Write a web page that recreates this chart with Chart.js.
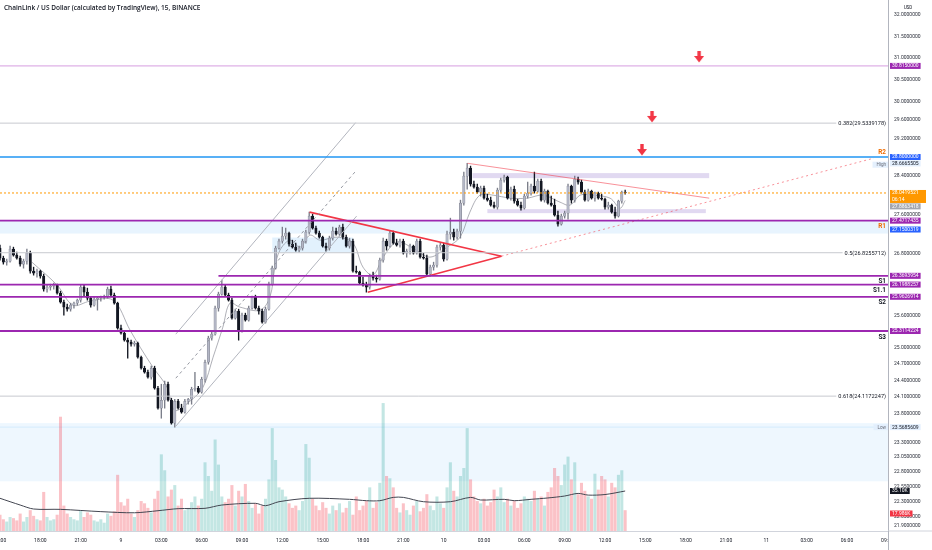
<!DOCTYPE html>
<html>
<head>
<meta charset="utf-8">
<script src="https://cdn.jsdelivr.net/npm/chart.js@4.4.1/dist/chart.umd.min.js"></script>
<style>
  html, body { margin: 0; padding: 0; background: #fff; }
  canvas { display: block; }
</style>
</head>
<body>
<canvas id="chart" width="932" height="550"></canvas>
<script>
// 15 minute candles, index 0 = 8th 15:00
const opens = [
  26.917, 26.718, 26.638, 26.658, 26.897, 26.777, 26.718, 26.599, 26.658, 26.817,
  26.461, 26.422, 26.461, 26.363, 26.110, 26.149, 26.169, 26.188, 26.033, 25.859,
  25.764, 25.725, 25.802, 25.840, 25.898, 26.149, 26.052, 25.936, 25.802, 25.917,
  25.936, 25.956, 25.975, 26.110, 25.994, 25.840, 25.365, 25.271, 25.140, 25.102,
  25.065, 25.084, 24.824, 24.622, 24.549, 24.458, 24.622, 24.259, 23.902, 24.044,
  24.331, 24.044, 23.637, 24.026, 23.902, 23.831, 24.026, 24.062, 24.241, 24.259,
  24.187, 24.422, 24.732, 25.177, 25.252, 25.744, 26.013, 26.149, 25.994, 25.898,
  25.554, 25.687, 25.327, 25.611, 25.516, 25.744, 25.956, 25.744, 25.687, 25.478,
  25.725, 26.207, 26.520, 26.917, 27.057, 27.158, 27.218, 26.997, 26.937, 26.877,
  26.917, 27.057, 27.239, 27.564, 27.319, 27.218, 27.138, 26.957, 26.917, 27.117,
  27.259, 27.198, 27.340, 27.138, 26.957, 27.057, 26.461, 26.442, 26.227, 26.188,
  26.149, 26.363, 26.324, 26.305, 26.678, 27.057, 26.957, 27.218, 27.017, 26.977,
  27.057, 26.817, 26.857, 26.957, 26.817, 27.057, 26.738, 26.718, 26.403, 26.540,
  26.579, 26.937, 26.977, 26.698, 27.198, 27.239, 27.138, 27.259, 27.831, 28.395,
  28.564, 28.227, 28.164, 28.059, 28.143, 27.934, 27.893, 27.790, 27.749, 28.101,
  28.311, 28.374, 27.934, 28.122, 27.872, 27.790, 27.728, 27.976, 28.039, 28.185,
  28.080, 28.290, 27.893, 28.080, 27.831, 27.790, 27.585, 27.400, 27.564, 27.626,
  28.185, 27.893, 28.332, 28.269, 28.059, 27.893, 28.080, 27.934, 28.039, 27.934,
  27.914, 27.749, 27.790, 27.646, 27.564, 27.872, 28.059
];
const highs = [
  26.977, 26.757, 26.698, 26.957, 26.937, 26.837, 26.757, 26.698, 26.897, 26.857,
  26.540, 26.501, 26.481, 26.403, 26.188, 26.207, 26.227, 26.207, 26.072, 25.898,
  25.821, 25.840, 25.859, 25.917, 26.188, 26.188, 26.130, 25.956, 25.956, 25.956,
  25.975, 25.994, 26.149, 26.169, 26.033, 25.859, 25.421, 25.290, 25.177, 25.140,
  25.121, 25.102, 24.843, 24.659, 24.586, 24.659, 24.659, 24.295, 24.331, 24.386,
  24.368, 24.080, 24.062, 24.062, 23.973, 24.062, 24.080, 24.277, 24.549, 24.295,
  24.458, 24.769, 25.214, 25.290, 25.783, 26.052, 26.285, 26.188, 26.033, 25.936,
  25.725, 25.725, 25.649, 25.649, 25.783, 25.975, 25.994, 25.783, 25.725, 25.764,
  26.246, 26.559, 26.957, 27.097, 27.340, 27.319, 27.239, 27.077, 27.017, 26.957,
  27.097, 27.279, 27.646, 27.605, 27.360, 27.259, 27.158, 27.017, 27.158, 27.340,
  27.319, 27.380, 27.400, 27.178, 27.117, 27.097, 26.559, 26.461, 26.344, 26.246,
  26.403, 26.442, 26.383, 26.718, 27.117, 27.097, 27.259, 27.259, 27.097, 27.097,
  27.097, 26.897, 26.997, 26.977, 27.097, 27.097, 26.817, 26.777, 26.579, 26.638,
  26.977, 27.017, 27.017, 27.259, 27.523, 27.299, 27.299, 27.893, 28.480, 28.6665505,
  28.607, 28.290, 28.227, 28.185, 28.185, 28.018, 27.955, 27.852, 28.143, 28.353,
  28.416, 28.395, 28.164, 28.185, 27.914, 27.852, 28.018, 28.269, 28.227, 28.480,
  28.332, 28.332, 28.122, 28.101, 27.976, 27.914, 27.667, 27.605, 27.667, 28.227,
  28.206, 28.395, 28.374, 28.311, 28.101, 28.122, 28.101, 28.059, 28.059, 28.018,
  27.934, 27.852, 27.811, 27.749, 27.893, 28.080, 28.101
];
const lows = [
  26.678, 26.599, 26.579, 26.638, 26.757, 26.698, 26.559, 26.520, 26.599, 26.422,
  26.383, 26.344, 26.324, 26.072, 26.052, 26.091, 26.110, 26.013, 25.840, 25.611,
  25.687, 25.687, 25.744, 25.802, 25.859, 25.975, 25.898, 25.764, 25.783, 25.706,
  25.879, 25.917, 25.936, 25.975, 25.821, 25.346, 25.252, 25.121, 24.806, 25.028,
  25.028, 24.806, 24.604, 24.531, 24.440, 24.422, 24.241, 23.884, 23.725, 23.902,
  24.026, 23.620, 23.5685609, 23.884, 23.813, 23.813, 23.973, 23.973, 24.205, 24.169,
  24.169, 24.368, 24.695, 25.140, 25.233, 25.687, 25.994, 25.975, 25.879, 25.535,
  25.535, 25.140, 25.290, 25.497, 25.497, 25.725, 25.725, 25.630, 25.459, 25.459,
  25.706, 26.188, 26.501, 26.897, 27.017, 27.097, 26.957, 26.917, 26.857, 26.837,
  26.877, 27.017, 27.198, 27.299, 27.198, 27.117, 26.937, 26.857, 26.877, 27.077,
  27.178, 27.158, 27.097, 26.937, 26.917, 26.442, 26.422, 26.207, 26.169, 26.052,
  26.110, 26.285, 26.246, 26.285, 26.638, 26.877, 26.937, 26.997, 26.957, 26.937,
  26.797, 26.738, 26.797, 26.797, 26.797, 26.718, 26.698, 26.363, 26.363, 26.481,
  26.540, 26.877, 26.658, 26.678, 27.097, 27.077, 27.097, 27.117, 27.790, 28.122,
  28.185, 28.143, 28.039, 27.976, 27.914, 27.872, 27.769, 27.728, 27.708, 28.059,
  28.269, 27.914, 27.893, 27.831, 27.769, 27.687, 27.708, 27.934, 27.997, 28.039,
  28.059, 27.872, 27.852, 27.811, 27.769, 27.564, 27.360, 27.380, 27.523, 27.503,
  27.831, 27.852, 28.227, 28.039, 27.872, 27.872, 27.914, 27.872, 27.914, 27.893,
  27.708, 27.708, 27.626, 27.523, 27.544, 27.831, 28.018
];
const closes = [
  26.718, 26.638, 26.658, 26.897, 26.777, 26.718, 26.599, 26.658, 26.817, 26.461,
  26.422, 26.461, 26.363, 26.110, 26.149, 26.169, 26.188, 26.033, 25.859, 25.764,
  25.725, 25.802, 25.840, 25.898, 26.149, 26.052, 25.936, 25.802, 25.917, 25.936,
  25.956, 25.975, 26.110, 25.994, 25.840, 25.365, 25.271, 25.140, 25.102, 25.065,
  25.084, 24.824, 24.622, 24.549, 24.458, 24.622, 24.259, 23.902, 24.044, 24.331,
  24.044, 23.637, 24.026, 23.902, 23.831, 24.026, 24.062, 24.241, 24.259, 24.187,
  24.422, 24.732, 25.177, 25.252, 25.744, 26.013, 26.149, 25.994, 25.898, 25.554,
  25.687, 25.327, 25.611, 25.516, 25.744, 25.956, 25.744, 25.687, 25.478, 25.725,
  26.207, 26.520, 26.917, 27.057, 27.158, 27.218, 26.997, 26.937, 26.877, 26.917,
  27.057, 27.239, 27.564, 27.319, 27.218, 27.138, 26.957, 26.917, 27.117, 27.259,
  27.198, 27.340, 27.138, 26.957, 27.057, 26.461, 26.442, 26.227, 26.188, 26.149,
  26.363, 26.324, 26.305, 26.678, 27.057, 26.957, 27.218, 27.017, 26.977, 27.057,
  26.817, 26.857, 26.957, 26.817, 27.057, 26.738, 26.718, 26.403, 26.540, 26.579,
  26.937, 26.977, 26.698, 27.198, 27.239, 27.138, 27.259, 27.831, 28.395, 28.564,
  28.227, 28.164, 28.059, 28.143, 27.934, 27.893, 27.790, 27.749, 28.101, 28.311,
  28.374, 27.934, 28.122, 27.872, 27.790, 27.728, 27.976, 28.039, 28.185, 28.080,
  28.290, 27.893, 28.080, 27.831, 27.790, 27.585, 27.400, 27.564, 27.626, 28.185,
  27.893, 28.332, 28.269, 28.059, 27.893, 28.080, 27.934, 28.039, 27.934, 27.914,
  27.749, 27.790, 27.646, 27.564, 27.872, 28.059, 28.0419521
];
// volume in thousands
const volumesK = [
  14, 10, 8, 12, 11, 9, 15, 8, 12, 18, 13, 10, 9, 34, 12, 9, 10, 14, 100, 22,
  15, 12, 10, 9, 18, 12, 16, 14, 9, 8, 10, 7, 15, 13, 17, 49, 25, 22, 28, 15,
  12, 18, 26, 24, 20, 16, 28, 35, 67, 53, 30, 36, 40, 22, 28, 18, 20, 25, 30, 22,
  28, 60, 48, 35, 80, 58, 30, 25, 28, 40, 22, 35, 30, 41, 26, 20, 24, 15, 22, 28,
  45, 90, 62, 38, 36, 30, 24, 20, 22, 18, 26, 76, 64, 28, 22, 18, 25, 20, 15, 22,
  18, 24, 16, 20, 26, 14, 30, 18, 22, 26, 38, 20, 25, 42, 112, 48, 46, 38, 20, 16,
  24, 18, 14, 22, 26, 17, 20, 32, 22, 18, 30, 24, 20, 38, 60, 35, 30, 48, 55, 90,
  45, 30, 26, 24, 28, 22, 25, 36, 30, 38, 25, 28, 22, 26, 20, 24, 30, 28, 26, 35,
  28, 30, 22, 34, 38, 55, 48, 40, 58, 65, 45, 60, 32, 42, 35, 30, 28, 50, 36, 48,
  45, 30, 42, 38, 49, 53, 17.986
];
// volume moving average
const volMaIdx = [0, 6, 10, 18, 30, 40, 47, 53, 61, 66, 76, 79, 83, 92, 104, 109,
  113, 117, 120, 126, 134, 140, 143, 150, 153, 158, 163, 168, 172, 175, 180, 186];
const volMaK = [28.7, 22.8, 19.3, 19.0, 17.0, 16.0, 17.8, 19.6, 19.9, 22.8, 24.3, 22.2,
  25.7, 28.7, 27.8, 26.6, 26.6, 29.5, 29.5, 25.7, 25.7, 29.5, 27.2, 27.8, 26.6, 27.8,
  29.0, 30.7, 33.0, 31.5, 32.0, 35.1];
// price moving average
const priceMaIdx = [9.5, 17, 21.7, 26.8, 33.6, 38.7, 41.7, 45.5, 49.7, 52, 56.5, 60.4,
  63.4, 66.3, 68.4, 71.4, 77.4, 80.3, 81.8, 83.3, 86.3, 89.3, 92.2, 95.2, 100.3, 105,
  108, 111, 114, 118.1, 122.9, 127.9, 133, 136.9, 139.8, 142.8, 146.7, 151.7, 156.8,
  161.6, 166.6, 169.6, 172.6, 176.4, 181.5, 184.5, 186];
const priceMa = [26.638, 26.188, 25.802, 25.879, 25.898, 25.327, 25.009, 24.641, 24.277,
  23.866, 24.026, 24.277, 24.824, 25.383, 25.840, 25.764, 25.706, 25.956, 26.540, 26.877,
  27.077, 26.937, 27.178, 27.077, 27.138, 27.017, 26.540, 26.383, 26.738, 27.037, 26.917,
  26.738, 26.937, 27.138, 27.646, 27.997, 27.997, 27.934, 27.934, 27.997, 27.852, 27.790,
  27.997, 27.997, 27.934, 27.728, 27.886];

const xTickLabels = ['15:00', '18:00', '21:00', '9', '03:00', '06:00', '09:00', '12:00',
  '15:00', '18:00', '21:00', '10', '03:00', '06:00', '09:00', '12:00', '15:00', '18:00',
  '21:00', '11', '03:00', '06:00', '09:00'];
const yTickValues = [32, 31.5, 31, 30.5, 30, 29.6, 29.2, 28.4, 27.6, 26.8, 25.6, 25,
  24.7, 24.4, 24.1, 23.8, 23.3, 23.05, 22.8, 22.55, 22.3, 22.05, 21.9];

const fibNames = ['0.382', '0.5', '0.618'];
const fibPrices = [29.5339178, 26.8255712, 24.1172247];
const pivotNames = ['R2', 'R1', 'S1', 'S1.1', 'S2', 'S3'];
const pivotPrices = [28.8, 27.4717435, 26.3693954, 26.1988257, 25.9626914, 25.3114224];
const pivotStart = [0, 0, 65, 0, 0, 0];
const upperTarget = 30.815;
const lastPrice = 28.0419521;
const prevMark = 27.8863418;
const zoneLow = 27.1500319;
const highPrice = 28.6665505;
const lowPrice = 23.5685609;

// trend lines: [start index, start price] -> [end index, end price]
const trendFromX = [52.3, 52.3, 52.3, 92.1, 109.4, 139.1, 149.2];
const trendFromP = [25.252, 24.440, 23.585, 27.646, 26.052, 28.6665505, 26.757];
const trendToX = [105.8, 106.1, 106.1, 149.2, 149.2, 211, 260];
const trendToP = [29.544, 28.522, 27.564, 26.757, 26.757, 27.934, 28.776];

// rectangles: index range x price range
const boxFromX = [140.6, 145, 81];
const boxToX = [211, 210, 105];
const boxTopP = [28.458, 27.708, 27.13];
const boxBottomP = [28.353, 27.626, 26.83];
const bandTopP = [27.4717435, 23.64];
const bandBottomP = [27.21, 22.64];

const arrowIdx = [191, 194, 208];
const arrowPrice = [28.95, 29.67, 31.02];

const UP_FILL = '#b3b6c5', UP_EDGE = '#7b7e8a', DOWN = '#131722';
const PURPLE = '#9c27b0', BLUE = '#2962ff';
const isUp = closes.map((c, i) => c >= opens[i]);

const trendStyles = [
  { color: '#b2b5be', width: 1, dash: [] },
  { color: '#9598a1', width: 1, dash: [3, 3] },
  { color: '#b2b5be', width: 1, dash: [] },
  { color: '#f23645', width: 1.6, dash: [] },
  { color: '#f23645', width: 1.6, dash: [] },
  { color: 'rgba(242,54,69,0.55)', width: 1, dash: [] },
  { color: 'rgba(242,54,69,0.55)', width: 1, dash: [2, 3] }
];

function makeArrow() {
  const c = document.createElement('canvas');
  c.width = 10; c.height = 12;
  const g = c.getContext('2d');
  g.fillStyle = '#f23645';
  g.fillRect(3.3, 0, 3.4, 6);
  g.beginPath(); g.moveTo(0, 5); g.lineTo(10, 5); g.lineTo(5, 11.5); g.closePath(); g.fill();
  return c;
}

function pxBand(ctx, a, yTop, yBot, color, x1, x2) {
  ctx.fillStyle = color;
  const l = x1 === undefined ? a.left : x1;
  const r = x2 === undefined ? a.right : x2;
  ctx.fillRect(l, yTop, r - l, yBot - yTop);
}

function hLine(ctx, y, x1, x2, color, width, dash) {
  ctx.save();
  ctx.strokeStyle = color;
  ctx.lineWidth = width;
  ctx.setLineDash(dash || []);
  ctx.beginPath();
  ctx.moveTo(x1, y);
  ctx.lineTo(x2, y);
  ctx.stroke();
  ctx.restore();
}

const overlay = {
  id: 'overlay',
  beforeDatasetsDraw(chart) {
    const { ctx, chartArea: a, scales: { x, y } } = chart;
    ctx.save();
    ctx.beginPath(); ctx.rect(a.left, a.top, a.right - a.left, a.bottom - a.top); ctx.clip();
    const bandColors = ['rgba(33,150,243,0.10)', 'rgba(33,150,243,0.08)'];
    bandTopP.forEach((p, k) => pxBand(ctx, a, y.getPixelForValue(p), y.getPixelForValue(bandBottomP[k]), bandColors[k]));
    const boxColors = ['rgba(149,117,205,0.28)', 'rgba(149,117,205,0.28)', 'rgba(33,150,243,0.13)'];
    boxFromX.forEach((bx, k) => {
      pxBand(ctx, a, y.getPixelForValue(boxTopP[k]), y.getPixelForValue(boxBottomP[k]), boxColors[k],
        x.getPixelForValue(bx), x.getPixelForValue(boxToX[k]));
    });
    hLine(ctx, y.getPixelForValue(lowPrice), a.left, a.right, 'rgba(33,150,243,0.12)', 1);
    ctx.restore();
  },
  afterDatasetsDraw(chart) {
    const { ctx, chartArea: a, scales: { x, y } } = chart;
    ctx.save();
    ctx.beginPath(); ctx.rect(a.left, a.top, a.right - a.left, a.bottom - a.top); ctx.clip();
    const textRight = a.right - 2;
    hLine(ctx, y.getPixelForValue(upperTarget), a.left, a.right, '#d69ee0', 1);

    ctx.font = '5.6px Roboto';
    ctx.textAlign = 'right';
    ctx.textBaseline = 'middle';
    fibPrices.forEach((p, k) => {
      const py = y.getPixelForValue(p);
      const label = fibNames[k] + '(' + p.toFixed(7) + ')';
      const w = ctx.measureText(label).width;
      hLine(ctx, py, a.left, textRight - w - 2, '#c7c9cf', 1);
      ctx.fillStyle = '#131722';
      ctx.fillText(label, textRight, py + 0.5);
    });

    hLine(ctx, y.getPixelForValue(lastPrice), a.left, a.right, '#ff9800', 1, [2, 2]);

    pivotPrices.forEach((p, k) => {
      const py = y.getPixelForValue(p);
      const isR = pivotNames[k][0] === 'R';
      const x1 = x.getPixelForValue(pivotStart[k]);
      hLine(ctx, py, pivotStart[k] === 0 ? a.left : x1, a.right, isR && k === 0 ? '#2196f3' : PURPLE, k === 0 ? 1.4 : 1.8);
      ctx.font = 'bold 6.4px Roboto';
      ctx.fillStyle = isR ? '#ef6c00' : '#131722';
      ctx.textBaseline = 'alphabetic';
      ctx.fillText(pivotNames[k], textRight, k === 0 ? py - 3 : py + 7.6);
    });

    // High / Low tags inside the pane
    ctx.font = '4.6px Roboto';
    ctx.textBaseline = 'middle';
    [['High', highPrice], ['Low', lowPrice]].forEach(([t, p], k) => {
      const py = y.getPixelForValue(p) + (k === 0 ? 1.4 : 0);
      const w = ctx.measureText(t).width + 6;
      ctx.fillStyle = 'rgba(227,239,253,0.95)';
      ctx.fillRect(a.right - w, py - 3, w, 6);
      ctx.fillStyle = '#6a6d78';
      ctx.fillText(t, textRight, py + 0.3);
    });
    ctx.restore();
  },
  afterDraw(chart) {
    const { ctx, chartArea: a, scales: { y, yv } } = chart;
    ctx.save();
    // hide the part of the last time label under the price axis
    ctx.fillStyle = '#fff';
    ctx.fillRect(a.right + 0.5, a.bottom + 0.5, chart.width - a.right, chart.height - a.bottom);
    hLine(ctx, a.bottom, a.right, chart.width, '#d1d4dc', 1);
    ctx.strokeStyle = '#b2b5be'; ctx.lineWidth = 1;
    ctx.beginPath(); ctx.moveTo(a.right + 0.5, a.bottom); ctx.lineTo(a.right + 0.5, chart.height); ctx.stroke();

    const tags = [
      { py: y.getPixelForValue(upperTarget), text: upperTarget.toFixed(7), bg: PURPLE, fg: '#fff' },
      { py: y.getPixelForValue(pivotPrices[0]), text: pivotPrices[0].toFixed(7), bg: BLUE, fg: '#fff' },
      { py: y.getPixelForValue(highPrice), text: highPrice.toFixed(7), bg: '#e3effd', fg: '#131722' },
      { py: y.getPixelForValue(lastPrice), text: lastPrice.toFixed(7), sub: '06:14', bg: '#ff9800', fg: '#fff' },
      { py: y.getPixelForValue(prevMark), text: prevMark.toFixed(7), bg: '#a3a6af', fg: '#fff' },
      { py: y.getPixelForValue(pivotPrices[1]), text: pivotPrices[1].toFixed(7), bg: PURPLE, fg: '#fff' },
      { py: y.getPixelForValue(zoneLow) - 7, text: zoneLow.toFixed(7), bg: BLUE, fg: '#fff' },
      { py: y.getPixelForValue(pivotPrices[2]), text: pivotPrices[2].toFixed(7), bg: PURPLE, fg: '#fff' },
      { py: y.getPixelForValue(pivotPrices[3]), text: pivotPrices[3].toFixed(7), bg: PURPLE, fg: '#fff' },
      { py: y.getPixelForValue(pivotPrices[4]), text: pivotPrices[4].toFixed(7), bg: PURPLE, fg: '#fff' },
      { py: y.getPixelForValue(pivotPrices[5]), text: pivotPrices[5].toFixed(7), bg: PURPLE, fg: '#fff' },
      { py: y.getPixelForValue(lowPrice), text: lowPrice.toFixed(7), bg: '#e3effd', fg: '#131722' },
      { py: yv.getPixelForValue(volMaK[volMaK.length - 1]), text: volMaK[volMaK.length - 1].toFixed(2) + 'K', bg: '#131722', fg: '#fff' },
      { py: yv.getPixelForValue(volumesK[volumesK.length - 1]) + 3, text: volumesK[volumesK.length - 1].toFixed(3) + 'K', bg: '#f23645', fg: '#fff' }
    ];
    ctx.font = '5px Roboto';
    ctx.textAlign = 'left';
    ctx.textBaseline = 'middle';
    let prevBottom = -99;
    tags.forEach((t) => {
      const h = t.sub ? 13 : 6;
      let top = t.sub ? t.py - 3 : t.py - h / 2;
      if (top < prevBottom + 0.4) top = prevBottom + 0.4;
      prevBottom = top + h;
      const w = ctx.measureText(t.text).width + 4;
      ctx.fillStyle = t.bg;
      ctx.fillRect(a.right + 2, top, t.sub ? chart.width - a.right - 8 : w, h);
      ctx.fillStyle = t.fg;
      ctx.fillText(t.text, a.right + 4, top + 3.2);
      if (t.sub) ctx.fillText(t.sub, a.right + 4, top + 9.6);
    });

    ctx.fillStyle = '#131722';
    ctx.font = '4.6px Roboto';
    ctx.textAlign = 'center';
    ctx.fillText('USD', (a.right + chart.width) / 2 - 2, 8);

    ctx.font = '600 6.5px "Open Sans"';
    ctx.textAlign = 'left';
    ctx.fillText('ChainLink / US Dollar (calculated by TradingView), 15, BINANCE', 4, 8);
    ctx.restore();
  }
};

const datasets = [
  {
    type: 'bar', yAxisID: 'yv', order: 10, grouped: false, barThickness: 2.4,
    data: volumesK.map((v, i) => ({ x: i, y: v })),
    backgroundColor: isUp.map((u) => (u ? 'rgba(38,166,154,0.28)' : 'rgba(242,54,69,0.3)'))
  },
  {
    type: 'line', yAxisID: 'yv', order: 9,
    data: volMaIdx.map((xi, k) => ({ x: xi, y: volMaK[k] })),
    borderColor: '#434651', borderWidth: 1, pointRadius: 0, tension: 0.3
  },
  {
    type: 'line', yAxisID: 'y', order: 7,
    data: priceMaIdx.map((xi, k) => ({ x: xi, y: priceMa[k] })),
    borderColor: 'rgba(120,123,134,0.75)', borderWidth: 0.8, pointRadius: 0, tension: 0.35
  },
  {
    type: 'bar', yAxisID: 'y', order: 6, grouped: false, barThickness: 0.7,
    data: lows.map((l, i) => ({ x: i, y: [l, highs[i]] })),
    backgroundColor: isUp.map((u) => (u ? UP_EDGE : DOWN))
  },
  {
    type: 'bar', yAxisID: 'y', order: 5, grouped: false, barThickness: 2.4, minBarLength: 0.8,
    data: opens.map((o, i) => ({ x: i, y: [o, closes[i]] })),
    backgroundColor: isUp.map((u) => (u ? UP_FILL : DOWN)),
    borderColor: isUp.map((u) => (u ? UP_EDGE : DOWN)),
    borderWidth: 0.5, borderSkipped: false
  }
];
trendFromX.forEach((tx, k) => {
  datasets.push({
    type: 'line', yAxisID: 'y', order: 3,
    data: [{ x: tx, y: trendFromP[k] }, { x: trendToX[k], y: trendToP[k] }],
    borderColor: trendStyles[k].color, borderWidth: trendStyles[k].width,
    borderDash: trendStyles[k].dash, pointRadius: 0, tension: 0
  });
});
datasets.push({
  type: 'line', yAxisID: 'y', order: 1, showLine: false,
  data: arrowIdx.map((ai, k) => ({ x: ai, y: arrowPrice[k] })),
  pointStyle: makeArrow(), pointRadius: 6
});

new Chart(document.getElementById('chart').getContext('2d'), {
  type: 'bar',
  data: { datasets },
  options: {
    responsive: false,
    animation: false,
    events: [],
    layout: { padding: 0, autoPadding: false },
    plugins: { legend: { display: false }, tooltip: { enabled: false } },
    scales: {
      x: {
        type: 'linear', min: 0, max: 264.2, offset: false,
        grid: { display: false, drawTicks: false, offset: false },
        border: { display: true, color: '#d1d4dc', width: 1 },
        ticks: {
          autoSkip: false, maxRotation: 0, padding: 7, color: '#131722',
          font: { family: 'Roboto', size: 5 },
          callback: (v) => xTickLabels[Math.round(v / 12)]
        },
        afterBuildTicks: (scale) => { scale.ticks = xTickLabels.map((_, k) => ({ value: k * 12 })); },
        afterFit: (scale) => { scale.height = 19; scale.paddingLeft = 0; scale.paddingRight = 0; }
      },
      y: {
        type: 'logarithmic', position: 'right', min: 21.82, max: 32.36,
        grid: { display: false, drawTicks: false },
        border: { display: true, color: '#b2b5be', width: 1 },
        ticks: {
          autoSkip: false, padding: 6, color: '#2a2e39',
          font: { family: 'Roboto', size: 5 },
          callback: (v) => Number(v).toFixed(7)
        },
        afterBuildTicks: (scale) => { scale.ticks = yTickValues.map((v) => ({ value: v })); },
        afterFit: (scale) => { scale.width = 44; scale.paddingTop = 0; scale.paddingBottom = 0; }
      },
      yv: {
        type: 'linear', display: false, min: 0, max: 466
      }
    }
  },
  plugins: [overlay]
});
</script>
</body>
</html>
